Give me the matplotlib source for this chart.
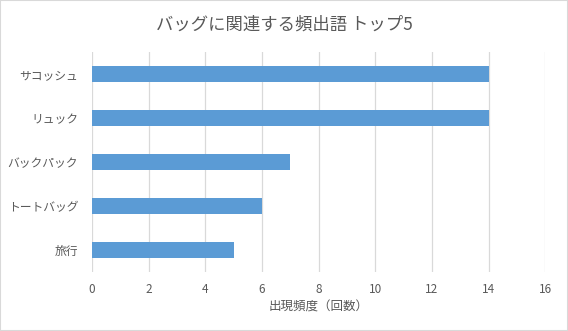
import matplotlib.pyplot as plt
from matplotlib.patches import Rectangle

plt.rcParams['font.family'] = ['Noto Sans CJK JP', 'DejaVu Sans']

categories = ['サコッシュ', 'リュック', 'バックパック', 'トートバッグ', '旅行']
counts = [14, 14, 7, 6, 5]
xticks = [0, 2, 4, 6, 8, 10, 12, 14, 16]

fig = plt.figure(figsize=(5.68, 3.31), dpi=100)
fig.patch.set_facecolor('white')
fig.patches.append(Rectangle((0, 0), 1, 1, transform=fig.transFigure,
                             fill=False, edgecolor='#D9D9D9', linewidth=1.5))

ax = fig.add_axes([0.162, 0.178, 0.798, 0.665])
ypos = list(range(len(categories)))
ax.barh(ypos, counts, height=0.35, color='#5B9BD5', zorder=3)
ax.set_yticks(ypos)
ax.set_yticklabels(categories)
ax.set_ylim(len(categories) - 0.5, -0.5)
ax.set_xlim(0, 16)
ax.set_xticks(xticks)
ax.grid(axis='x', color='#D9D9D9', linewidth=0.9, zorder=0)
for s in ax.spines.values():
    s.set_visible(False)
ax.tick_params(axis='both', length=0, colors='#595959', labelsize=8.5)
ax.tick_params(axis='x', pad=8)
ax.tick_params(axis='y', pad=10)
ax.set_xlabel('出現頻度（回数）', color='#595959', fontsize=9, labelpad=3)
fig.text(0.5, 0.925, 'バッグに関連する頻出語 トップ5', ha='center', va='center',
         color='#595959', fontsize=12.5)

fig.savefig('out.png', dpi=100)
